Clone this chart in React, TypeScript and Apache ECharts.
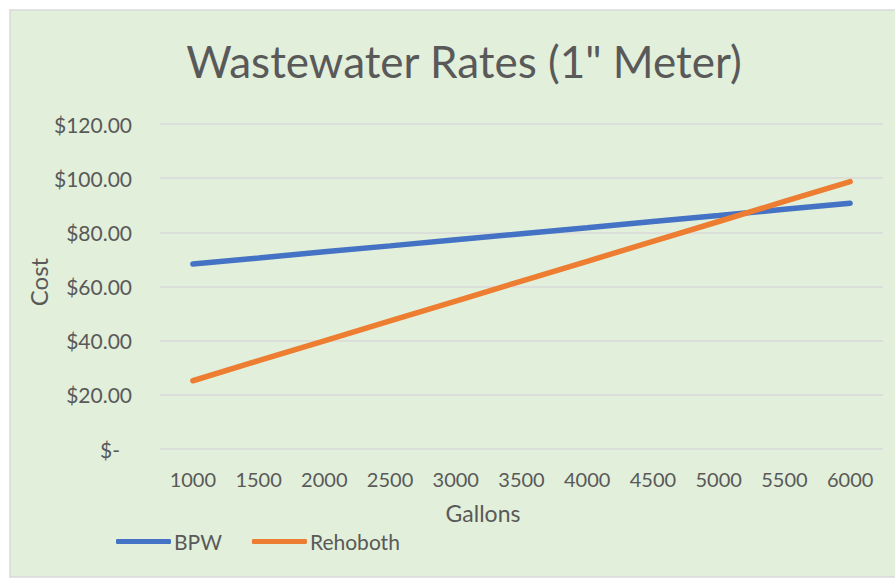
import React, { useEffect, useRef } from "react";
import * as echarts from "echarts";

const gallons = ["1000", "1500", "2000", "2500", "3000", "3500", "4000", "4500", "5000", "5500", "6000"];
const bpw = [68.3, 70.5, 72.8, 75.0, 77.3, 79.5, 81.7, 84.0, 86.2, 88.5, 90.7];
const rehoboth = [25.2, 32.6, 39.9, 47.3, 54.6, 62.0, 69.3, 76.7, 84.0, 91.4, 98.7];
const titleText = 'Wastewater Rates (1" Meter)';
const xName = "Gallons";
const yName = "Cost";

const FONT = "Lato";
const GREY = "#595959";

export default function App() {
  const ref = useRef<HTMLDivElement>(null);
  useEffect(() => {
    if (!ref.current) return;
    const chart = echarts.init(ref.current, undefined, { renderer: "svg" });
    chart.setOption({
      animation: false,
      backgroundColor: "#ffffff",
      textStyle: { fontFamily: FONT },
      graphic: [
        {
          type: "rect",
          z: -10,
          shape: { x: 10, y: 10, width: 900, height: 567 },
          style: { fill: "#e2efda", stroke: "#d9d9d9", lineWidth: 1.5 },
        },
        {
          type: "text",
          x: 464,
          y: 61,
          style: {
            text: titleText,
            fill: GREY,
            font: `44px ${FONT}`,
            textAlign: "center",
            textVerticalAlign: "middle",
          },
        },
        {
          type: "text",
          x: 483,
          y: 513,
          style: {
            text: xName,
            fill: GREY,
            font: `23px ${FONT}`,
            textAlign: "center",
            textVerticalAlign: "middle",
          },
        },
        {
          type: "text",
          x: 38,
          y: 282,
          rotation: Math.PI / 2,
          style: {
            text: yName,
            fill: GREY,
            font: `24px ${FONT}`,
            textAlign: "center",
            textVerticalAlign: "middle",
          },
        },
      ],
      legend: {
        left: 111,
        top: 526,
        itemWidth: 55,
        itemHeight: 5,
        itemGap: 30,
        icon: "roundRect",
        textStyle: { color: GREY, fontSize: 21, fontFamily: FONT, padding: [0, 0, 0, -2] },
        data: ["BPW", "Rehoboth"],
      },
      grid: { left: 160, right: 12, top: 124, bottom: 132 },
      xAxis: {
        type: "category",
        data: gallons,
        boundaryGap: true,
        axisLine: { show: false },
        axisTick: { show: false },
        axisLabel: { color: GREY, fontSize: 20, fontFamily: FONT, margin: 20 },
      },
      yAxis: {
        type: "value",
        min: 0,
        max: 120,
        interval: 20,
        axisLine: { show: false },
        axisTick: { show: false },
        splitLine: { lineStyle: { color: "#d9d9d9", width: 1.5 } },
        axisLabel: {
          color: GREY,
          fontSize: 21,
          fontFamily: FONT,
          margin: 28,
          formatter: (v: number) => (v === 0 ? "{z|$-}" : "$" + v.toFixed(2)),
          rich: { z: { color: GREY, fontSize: 21, fontFamily: FONT, padding: [0, 12, 0, 0] } },
        },
      },
      series: [
        {
          name: "BPW",
          type: "line",
          data: bpw,
          symbol: "none",
          color: "#4472c4",
          lineStyle: { width: 5.5, cap: "round" },
        },
        {
          name: "Rehoboth",
          type: "line",
          data: rehoboth,
          symbol: "none",
          color: "#ed7d31",
          lineStyle: { width: 5.5, cap: "round" },
        },
      ],
    });
    return () => chart.dispose();
  }, []);
  return (
    <div
      ref={ref}
      style={{ position: "fixed", left: 0, top: 0, width: 895, height: 581 }}
    />
  );
}
